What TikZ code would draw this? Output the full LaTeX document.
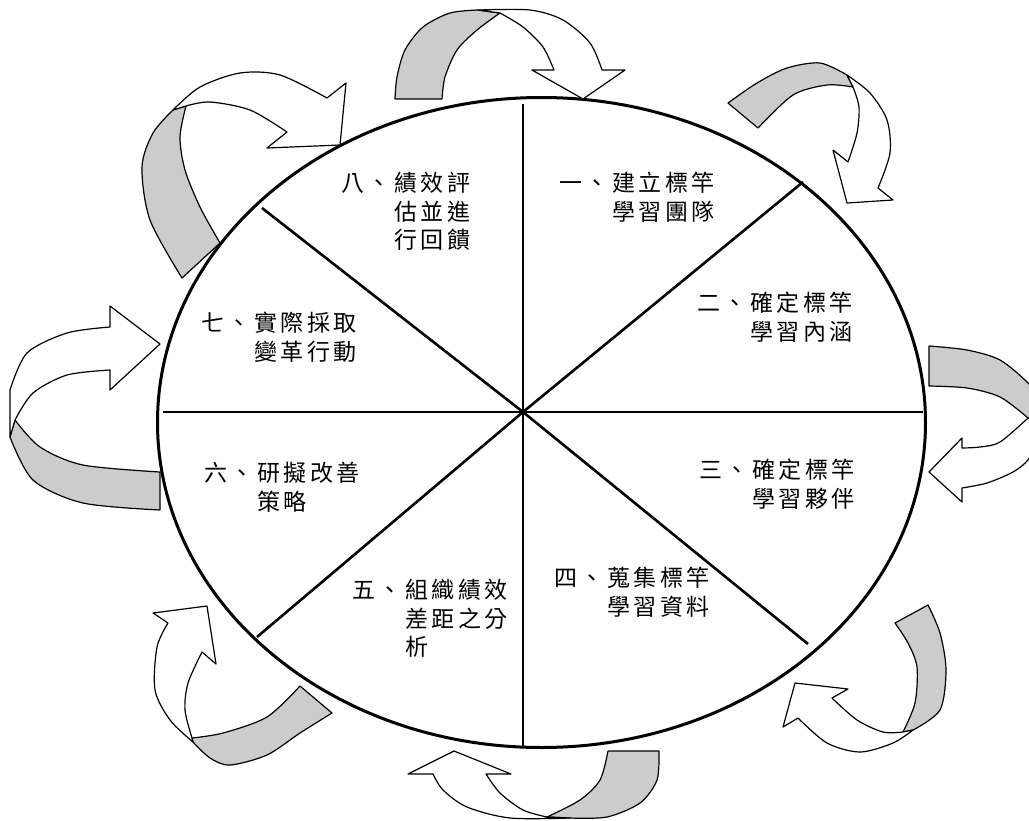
\documentclass[tikz,border=0pt]{standalone}
\usepackage{fontspec}
\newfontfamily\cjk[LetterSpace=15]{Noto Sans CJK TC}
\definecolor{ribgray}{HTML}{CCCCCC}
\begin{document}
\begin{tikzpicture}[x=1pt,y=-1pt,
  back/.style={draw=black,fill=ribgray,line width=1.2pt,line join=round},
  front/.style={draw=black,fill=white,line width=1.2pt,line join=round},
  lbl/.style={anchor=north west,inner sep=0pt,align=left,font=\cjk\fontsize{23}{28.5}\selectfont},
  spoke/.style={line width=2.6pt}]
\useasboundingbox (0,0) rectangle (1029,820);
\fill[white] (0,0) rectangle (1029,820);

% oval
\draw[line width=3pt] (541.5,422.5) ellipse [x radius=384pt, y radius=325pt];
\coordinate (c) at (523,412);
\coordinate (sN) at (523,104);
\coordinate (sS) at (523,748);
\coordinate (sW) at (163,412);
\coordinate (sE) at (923,412);
\coordinate (sNE) at (803,182);
\coordinate (sNW) at (262,208);
\coordinate (sSW) at (257,637);
\coordinate (sSE) at (808,644);
\foreach \e in {sN,sS,sW,sE,sNE,sNW,sSW,sSE} \draw[spoke] (c) -- (\e);

% labels
\node[lbl] (t1) at (559,172) {一、建立標竿\\\hspace*{53pt}學習團隊};
\node[lbl] (t2) at (697,292) {二、確定標竿\\\hspace*{53pt}學習內涵};
\node[lbl] (t3) at (699,459) {三、確定標竿\\\hspace*{53pt}學習夥伴};
\node[lbl] (t4) at (554,567) {四、蒐集標竿\\\hspace*{53pt}學習資料};
\node[lbl] (t5) at (352,579) {五、組織績效\\\hspace*{53pt}差距之分\\\hspace*{53pt}析};
\node[lbl] (t6) at (204,462) {六、研擬改善\\\hspace*{53pt}策略};
\node[lbl] (t7) at (201,312) {七、實際採取\\\hspace*{53pt}變革行動};
\node[lbl] (t8) at (341,172) {八、績效評\\\hspace*{53pt}估並進\\\hspace*{53pt}行回饋};

\begin{scope}
\clip (0,0) rectangle (1029,820);
% arrow 1 (top)
\path[back] (395,99) -- plot[smooth] coordinates {(395,99) (397,77) (405,50) (423,27) (450,13) (478,10)}
  -- (500,13) -- plot[smooth] coordinates {(500,13) (477,30) (457,50) (445,77) (442,99)} -- cycle;
\path[front] (478,10) -- plot[smooth] coordinates {(478,10) (530,10) (563,20) (590,43) (602,70)}
  -- (625,70) -- (583,99) -- (532,70) -- (554,70)
  -- plot[smooth] coordinates {(554,70) (543,47) (523,27) (500,13)} -- cycle;
% arrow 2 (upper right)
\path[back] (728,103) -- plot[smooth] coordinates {(728,103) (757,83) (787,68) (820,63) (847,75)}
  -- (853,87) -- plot[smooth] coordinates {(853,87) (827,85) (793,95) (758,128)} -- cycle;
\path[front] (847,75) -- plot[smooth] coordinates {(847,75) (870,93) (887,120) (890,153) (878,188)}
  -- (893,200) -- (847,203) -- (833,150) -- (848,162)
  -- plot[smooth] coordinates {(848,162) (857,133) (859,107) (853,87)} -- cycle;
% arrow 3 (right)
\path[back] (929,346) -- plot[smooth] coordinates {(929,346) (967,350) (1000,360) (1028,383) (1040,400)}
  -- (1040,425) -- plot[smooth] coordinates {(1028,418) (1000,397) (967,388) (929,386)} -- cycle;
\path[front] (1028,418) -- plot[smooth] coordinates {(1028,418) (1000,442) (980,447) (962,448)}
  -- (962,438) -- (929,472) -- (962,502) -- (962,488)
  -- plot[smooth] coordinates {(962,488) (987,483) (1013,472) (1028,460) (1040,440)} -- (1045,420) -- cycle;
% arrow 4 (lower right)
\path[back] (895,623) -- (928,605) -- plot[smooth] coordinates {(928,605) (940,633) (946,670) (940,710) (913,730)}
  -- (903,732) -- plot[smooth] coordinates {(903,732) (915,703) (917,667) (908,643) (895,623)} -- cycle;
\path[front] (913,730) -- plot[smooth] coordinates {(913,730) (893,743) (860,752) (827,743) (798,718)}
  -- (783,727) -- (795,683) -- (848,689) -- (832,698)
  -- plot[smooth] coordinates {(832,698) (857,720) (883,732) (903,732)} -- cycle;
% arrow 5 (bottom)
\path[back] (608,751) -- (659,751) -- plot[smooth] coordinates {(659,751) (657,780) (640,803) (607,817) (570,818)}
  -- (547,817) -- plot[smooth] coordinates {(547,817) (580,800) (600,780) (608,751)} -- cycle;
\path[front] (570,818) -- plot[smooth] coordinates {(570,818) (510,818) (467,807) (443,790) (433,774)}
  -- (408,774) -- (454,751) -- (511,774) -- (486,774)
  -- plot[smooth] coordinates {(486,774) (500,793) (523,810) (547,817)} -- cycle;
% arrow 6 (lower left)
\path[back] (300,686) -- (332,713) -- plot[smooth] coordinates {(332,713) (300,733) (267,755) (230,765) (210,758) (193,742)}
  -- (192,738) -- plot[smooth] coordinates {(192,738) (223,733) (267,717) (300,686)} -- cycle;
\path[front] (193,742) -- plot[smooth] coordinates {(193,742) (170,720) (155,690) (157,647) (168,623)}
  -- (153,613) -- (207,606) -- (216,664) -- (202,652)
  -- plot[smooth] coordinates {(202,652) (188,683) (185,710) (192,738)} -- cycle;
% arrow 7 (left)
\path[back] (15,420) -- plot[smooth] coordinates {(15,420) (40,447) (83,465) (160,472)}
  -- (160,510) -- plot[smooth] coordinates {(160,510) (83,503) (33,480) (10,437)} -- cycle;
\path[front] (10,437) -- (10,390) -- plot[smooth] coordinates {(10,390) (27,353) (67,333) (110,327)}
  -- (110,306) -- (160,344) -- (110,390) -- (110,370)
  -- plot[smooth] coordinates {(110,370) (67,375) (33,393) (15,420)} -- cycle;
% arrow 8 (upper left)
\path[back] (173,110) -- plot[smooth] coordinates {(173,110) (153,133) (142,167) (150,220) (182,278)}
  -- (220,243) -- plot[smooth] coordinates {(220,243) (200,207) (185,170) (180,137) (186,106)} -- cycle;
\path[front] (173,110) -- plot[smooth] coordinates {(173,110) (200,87) (240,73) (280,75) (327,98)}
  -- (346,83) -- (340,145) -- (267,148) -- (287,132)
  -- plot[smooth] coordinates {(287,132) (250,110) (210,102) (186,106)} -- cycle;
\end{scope}
\end{tikzpicture}
\end{document}
